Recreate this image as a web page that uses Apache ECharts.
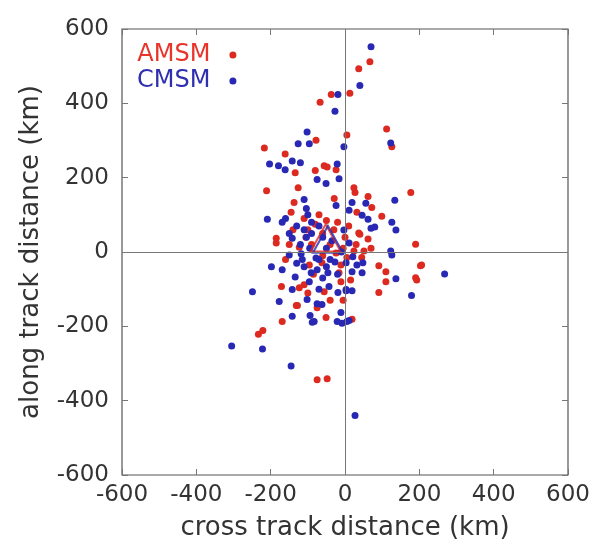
<!DOCTYPE html>
<html>
<head>
<meta charset="utf-8">
<script src="https://cdn.jsdelivr.net/npm/echarts@6/dist/echarts.min.js"></script>
<style>
  html, body { margin: 0; padding: 0; background: #fff; }
  #chart { width: 600px; height: 550px; }
</style>
</head>
<body>
<div id="chart"></div>
<script>
// cross track (km), along track (km)
const amsm = [
  [67, 512], [37, 493], [13, 427], [-37, 424], [-67, 403], [-78, 301], [-217, 280], [5, 315], [112, 331], [126, 283],
  [-161, 264], [-134, 213], [-56, 232], [-48, 229], [-24, 221], [-80, 219], [-211, 165], [-126, 173], [-137, 133], [-29, 144],
  [-145, 107], [-185, 37], [24, 173], [27, 160], [62, 149], [177, 160], [72, 120], [32, 107], [99, 96], [37, 51],
  [190, 21], [203, -37], [190, -69], [40, 48], [62, 35], [24, 3], [51, 3], [206, -35], [91, -37], [-11, -35],
  [110, -53], [193, -75], [110, -80], [91, -109], [19, -181], [-11, -80], [-171, -93], [-169, -187], [-233, -221], [-221, -211],
  [-75, -344], [-48, -341], [-131, -144], [-51, -176], [-16, -56], [-185, 24], [-123, -96], [-128, -144], [-96, -35], [-110, -88],
  [-62, -29], [-56, -107], [-123, 13], [-24, -3],
  [-100, 60], [-80, 75], [-60, 50], [-40, 20], [-30, 60], [-90, 20], [-140, 60], [-110, 90], [-70, 100], [-20, 80],
  [0, 40], [5, -15], [-5, 10], [10, 70], [-150, 20], [-60, -10], [-85, -60], [-40, -130], [-5, -130], [30, 20],
  [45, -15], [70, 10], [15, -75], [-75, -150], [-100, -110], [-160, -20], [-105, 40], [-50, 85]
];
const cmsm = [
  [70, 552], [40, 448], [-19, 424], [-27, 379], [-102, 323], [-126, 291], [-96, 291], [-3, 283], [123, 293],
  [-203, 237], [-179, 232], [-161, 221], [-142, 245], [-120, 240], [-21, 237], [-75, 195], [-51, 184], [-16, 197], [-110, 141], [-104, 117],
  [-24, 125], [-209, 88], [-169, 80], [134, 139], [19, 133], [56, 131], [11, 112], [46, 99], [62, 88], [80, 67],
  [70, 64], [126, 80], [137, 59], [-3, 59], [268, -59], [11, 24], [123, 3], [126, -8], [3, -29], [21, -13],
  [32, -35], [48, -29], [19, -53], [46, -56], [137, -72], [3, -104], [19, -104], [179, -117], [-11, -163], [11, -184],
  [27, -440], [-249, -107], [-198, -40], [-169, -48], [-177, -133], [-142, -173], [-305, -253], [-222, -261], [-145, -307], [-134, -67],
  [-142, -101], [-102, -128], [-75, -139], [-62, -141], [-94, -171], [-83, -187], [-21, -187], [-8, -192], [5, -187], [-96, -80],
  [-43, -93], [3, -101], [-150, -8], [-118, -5], [-91, -56], [-75, -48], [-46, -56], [-19, -109], [-27, -27], [-104, 40],
  [-142, 37], [-78, -16], [-88, -189],
  [-130, 70], [-110, 60], [-90, 50], [-120, 20], [-95, 10], [-60, 40], [-50, 10], [-35, 30], [-70, 70], [-100, 100],
  [-150, 50], [-130, -30], [-60, -70], [-110, -40], [-70, -100], [-20, -60], [-10, 0], [-40, -20], [-160, 90], [-90, 80],
  [-115, -20], [-70, -20], [-50, -40]
];
// mean positions (triangles)
const amsmMean = [[-52, 38]];
const cmsmMean = [[-46, 34]];

const axisTicks = [-600, -400, -200, 0, 200, 400, 600];
const red = '#dc2a20';
const blue = '#2828b4';

const frame = '#555';
const tickFont = { fontFamily: 'DejaVu Sans', fontSize: 23, color: '#333' };
const nameFont = { fontFamily: 'DejaVu Sans', fontSize: 26, color: '#333' };

function axisBase(extra) {
  return Object.assign({
    type: 'value',
    min: axisTicks[0],
    max: axisTicks[axisTicks.length - 1],
    interval: 200,
    splitLine: { show: false },
    axisLine: { show: false, onZero: false },
    axisTick: { show: true, inside: true, length: 6, lineStyle: { color: '#777' } }
  }, extra);
}

let chart = echarts.init(document.getElementById('chart'));
chart.setOption({
  animation: false,
  grid: {
    left: 122, right: 32, top: 29, bottom: 75,
    show: true, borderColor: frame, borderWidth: 1.2, backgroundColor: '#fff'
  },
  legend: {
    orient: 'vertical',
    left: 132, top: 38,
    align: 'right',
    itemGap: 2,
    itemWidth: 7, itemHeight: 7,
    data: [
      { name: 'AMSM', icon: 'circle', textStyle: { color: '#e8342a' } },
      { name: 'CMSM', icon: 'circle', textStyle: { color: '#2f2fb0' } }
    ],
    textStyle: { fontFamily: 'DejaVu Sans', fontSize: 24, padding: [0, 14, 0, 0] }
  },
  xAxis: [
    axisBase({
      position: 'bottom',
      name: 'cross track distance (km)',
      nameLocation: 'middle',
      nameGap: 40,
      nameTextStyle: nameFont,
      axisLabel: Object.assign({ margin: 9 }, tickFont)
    }),
    axisBase({ position: 'top', axisLabel: { show: false } })
  ],
  yAxis: [
    axisBase({
      position: 'left',
      name: 'along track distance (km)',
      nameLocation: 'middle',
      nameGap: 78,
      nameTextStyle: nameFont,
      axisLabel: Object.assign({ margin: 13 }, tickFont)
    }),
    axisBase({ position: 'right', axisLabel: { show: false } })
  ],
  series: [
    {
      name: 'AMSM',
      type: 'scatter',
      data: amsm,
      symbolSize: 7,
      itemStyle: { color: red, opacity: 1 },
      markLine: {
        silent: true,
        symbol: 'none',
        label: { show: false },
        lineStyle: { color: '#777', width: 1, type: 'solid' },
        data: [{ xAxis: 0 }, { yAxis: 0 }]
      }
    },
    {
      name: 'CMSM',
      type: 'scatter',
      data: cmsm,
      symbolSize: 7,
      itemStyle: { color: blue, opacity: 1 }
    },
    {
      name: 'AMSM mean',
      type: 'scatter',
      data: amsmMean,
      symbol: 'triangle',
      symbolSize: [30, 27],
      itemStyle: { color: 'rgba(0,0,0,0)', borderColor: red, borderWidth: 2 }
    },
    {
      name: 'CMSM mean',
      type: 'scatter',
      data: cmsmMean,
      symbol: 'triangle',
      symbolSize: [30, 27],
      itemStyle: { color: 'rgba(0,0,0,0)', borderColor: blue, borderWidth: 2 }
    }
  ]
});
</script>
</body>
</html>
